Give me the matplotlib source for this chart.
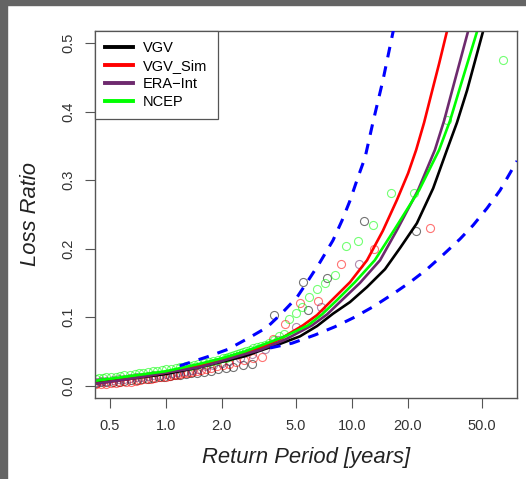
import matplotlib
matplotlib.use("Agg")
import matplotlib.pyplot as plt
from matplotlib.lines import Line2D
from matplotlib.patches import Rectangle

plt.rcParams['font.family'] = ['Liberation Sans', 'DejaVu Sans']

# fitted return-level curves: return period [years] / loss ratio
vgv_fit_T = [0.417, 0.643, 1.0, 1.53, 2.01, 2.67, 3.21, 4.12, 5.27, 6.51, 7.93, 9.79, 12.09, 15.1, 18.2,
             22.4, 27.4, 32.5, 36.8, 41.7, 50.8, 54.1]
vgv_fit_L = [0.004, 0.010, 0.017, 0.027, 0.035, 0.043, 0.051, 0.061, 0.072, 0.087, 0.105, 0.122, 0.144,
             0.170, 0.201, 0.237, 0.288, 0.344, 0.384, 0.431, 0.517, 0.545]

sim_fit_T = [0.417, 0.643, 1.0, 1.53, 2.01, 2.67, 3.21, 4.12, 5.47, 6.51, 7.84, 9.79, 12.09, 14.7, 17.5,
             20.1, 22.2, 24.5, 26.7, 29.5, 32.5, 34.6]
sim_fit_L = [0.0025, 0.010, 0.019, 0.029, 0.037, 0.048, 0.055, 0.068, 0.088, 0.103, 0.125, 0.151, 0.183,
             0.226, 0.271, 0.310, 0.344, 0.384, 0.424, 0.470, 0.517, 0.545]

era_fit_T = [0.417, 0.643, 1.0, 1.53, 2.01, 2.67, 3.21, 4.38, 6.12, 7.37, 8.87, 11.08, 14.2, 17.5, 22.7,
             28.0, 31.4, 35.0, 42.2, 44.9]
era_fit_L = [0.0025, 0.010, 0.019, 0.027, 0.036, 0.046, 0.052, 0.067, 0.088, 0.104, 0.125, 0.150, 0.183,
             0.227, 0.285, 0.344, 0.387, 0.435, 0.517, 0.545]

ncep_fit_T = [0.417, 0.643, 1.0, 1.53, 2.01, 2.67, 3.21, 4.38, 5.82, 6.92, 8.34, 10.4, 13.3, 16.9, 23.0,
              29.5, 33.8, 38.2, 47.2, 50.2]
ncep_fit_L = [0.007, 0.014, 0.021, 0.032, 0.040, 0.050, 0.058, 0.072, 0.088, 0.104, 0.125, 0.151, 0.183,
              0.227, 0.285, 0.344, 0.387, 0.435, 0.517, 0.545]

# confidence band (blue dashed)
upper_T = [1.19, 1.67, 2.16, 2.77, 3.50, 4.22, 5.08, 5.82, 6.75, 7.93, 8.87, 9.79, 10.8, 11.8, 13.0, 14.7,
           16.7, 17.3]
upper_L = [0.029, 0.042, 0.053, 0.069, 0.085, 0.106, 0.129, 0.153, 0.180, 0.212, 0.241, 0.270, 0.304, 0.333,
           0.384, 0.445, 0.517, 0.536]
lower_T = [3.64, 4.78, 6.35, 8.13, 10.2, 13.0, 16.7, 20.6, 25.4, 31.0, 38.2, 44.9, 53.4, 62.7, 77.4]
lower_L = [0.055, 0.062, 0.074, 0.086, 0.099, 0.115, 0.134, 0.151, 0.170, 0.191, 0.214, 0.234, 0.259, 0.285,
           0.328]

# empirical losses
vgv_T = [22.2, 11.6, 7.4, 5.5, 5.8, 3.83, 2.92, 2.6, 2.3, 2.1, 1.9, 1.75, 1.6, 1.48, 1.37, 1.28, 1.2,
         1.12, 1.05, 0.98, 0.92, 0.86, 0.8, 0.75, 0.7, 0.65, 0.6, 0.56, 0.52, 0.48, 0.45, 0.42]
vgv_L = [0.225, 0.241, 0.157, 0.151, 0.110, 0.103, 0.032, 0.030, 0.027, 0.026, 0.024, 0.022, 0.020, 0.019,
         0.018, 0.017, 0.016, 0.015, 0.014, 0.013, 0.012, 0.011, 0.010, 0.009, 0.008, 0.008, 0.007, 0.006,
         0.006, 0.005, 0.005, 0.004]

sim_T = [26.4, 13.2, 8.8, 6.6, 5.3, 4.4, 3.77, 3.3, 2.93, 2.64, 2.4, 2.2, 2.03, 1.89, 1.76, 1.65, 1.55,
         1.47, 1.39, 1.32, 1.26, 1.2, 1.15, 1.1, 1.06, 1.0, 0.94, 0.88, 0.83, 0.78, 0.73, 0.69, 0.65,
         0.61, 0.57, 0.54, 0.51, 0.48, 0.45, 0.42]
sim_L = [0.230, 0.199, 0.178, 0.123, 0.120, 0.090, 0.068, 0.042, 0.040, 0.037, 0.035, 0.032, 0.030, 0.028,
         0.026, 0.024, 0.023, 0.021, 0.020, 0.019, 0.018, 0.017, 0.016, 0.015, 0.014, 0.013, 0.012, 0.011,
         0.010, 0.009, 0.008, 0.007, 0.006, 0.006, 0.005, 0.004, 0.004, 0.003, 0.003, 0.002]

era_T = [10.9, 6.8, 5.0, 4.0, 3.4, 2.9, 2.5, 2.2, 2.0, 1.8, 1.65, 1.5, 1.38, 1.27, 1.17, 1.08, 1.0, 0.93,
         0.86, 0.8, 0.74, 0.69, 0.64, 0.6, 0.56, 0.52, 0.48, 0.45, 0.42]
era_L = [0.177, 0.115, 0.085, 0.066, 0.054, 0.046, 0.040, 0.036, 0.033, 0.030, 0.028, 0.025, 0.023, 0.021,
         0.020, 0.018, 0.017, 0.016, 0.015, 0.014, 0.013, 0.012, 0.011, 0.010, 0.009, 0.008, 0.007,
         0.007, 0.006]

ncep_T = [65.0, 32.5, 21.7, 16.3, 13.0, 10.8, 9.3, 8.1, 7.2, 6.5, 5.9, 5.4, 5.0, 4.6, 4.33, 4.06, 3.82,
          3.61, 3.42, 3.25, 3.1, 2.95, 2.83, 2.71, 2.6, 2.5, 2.41, 2.32, 2.24, 2.17, 2.1, 2.03, 1.9, 1.8,
          1.7, 1.6, 1.5, 1.42, 1.35, 1.28, 1.2, 1.13, 1.07, 1.0, 0.95, 0.9, 0.85, 0.8, 0.76, 0.72, 0.68,
          0.64, 0.6, 0.57, 0.54, 0.51, 0.48, 0.46, 0.44, 0.42]
ncep_L = [0.475, 0.387, 0.281, 0.281, 0.235, 0.211, 0.204, 0.161, 0.150, 0.141, 0.129, 0.115, 0.106, 0.097,
          0.075, 0.072, 0.066, 0.062, 0.060, 0.058, 0.056, 0.055, 0.052, 0.050, 0.049, 0.047, 0.046, 0.045,
          0.044, 0.042, 0.041, 0.040, 0.038, 0.036, 0.035, 0.033, 0.031, 0.030, 0.029, 0.028, 0.027, 0.026,
          0.025, 0.024, 0.023, 0.022, 0.021, 0.020, 0.019, 0.018, 0.017, 0.016, 0.015, 0.014, 0.013, 0.013,
          0.012, 0.011, 0.011, 0.010]

labels = ['VGV', 'VGV_Sim', 'ERA\u2212Int', 'NCEP']
colors = ['black', 'red', '#6E2A6E', '#00FF00']

xticks = [0.5, 1.0, 2.0, 5.0, 10.0, 20.0, 50.0]
yticks = [0.0, 0.1, 0.2, 0.3, 0.4, 0.5]


fig = plt.figure(figsize=(5.26, 4.79), dpi=100)
ax = fig.add_axes([0.1806, 0.1691, 0.8014, 0.7668])

points = [(vgv_T, vgv_L), (sim_T, sim_L), (era_T, era_L), (ncep_T, ncep_L)]
for (t, l), c in zip(points, colors):
    ax.plot(t, l, 'o', mfc='none', mec=c, ms=5.8, mew=0.8, alpha=0.55, zorder=1)

fits = [(vgv_fit_T, vgv_fit_L), (sim_fit_T, sim_fit_L), (era_fit_T, era_fit_L), (ncep_fit_T, ncep_fit_L)]
for (t, l), c in zip(fits, colors):
    ax.plot(t, l, '-', color=c, lw=1.9, zorder=2)

ax.plot(upper_T, upper_L, color='#0000FF', lw=2.2, ls=(0, (3.5, 3)), zorder=3)
ax.plot(lower_T, lower_L, color='#0000FF', lw=2.2, ls=(0, (3.5, 3)), zorder=3)

ax.set_xscale('log')
ax.set_xlim(0.417, 76.9)
ax.set_ylim(-0.018, 0.518)
ax.set_xticks(xticks)
ax.set_xticklabels(['%.1f' % v for v in xticks])
ax.xaxis.set_minor_locator(matplotlib.ticker.NullLocator())
ax.set_yticks(yticks)
ax.set_yticklabels(['%.1f' % v for v in yticks], rotation=90, va='center')
ax.tick_params(axis='both', length=7, width=0.8, color='#555555', labelsize=10.5, labelcolor='#333333')
ax.tick_params(axis='x', pad=8)
ax.tick_params(axis='y', pad=7)
for s in ax.spines.values():
    s.set_color('#555555')
    s.set_linewidth(1.0)

handles = [Line2D([], [], color=c, lw=2.8) for c in colors]
leg = ax.legend(handles, labels, loc='upper left', borderaxespad=0, fancybox=False,
                fontsize=10.5, handlelength=1.9, handletextpad=0.7, labelspacing=0.28,
                borderpad=0.7, framealpha=1)
leg.get_frame().set_edgecolor('#555555')
leg.get_frame().set_linewidth(0.9)

fig.text(31 / 526, 1 - 214 / 479, 'Loss Ratio', rotation=90, ha='center', va='center',
         style='italic', fontsize=15.8, color='#222222')
fig.text(305.7 / 526, 1 - 458 / 479, 'Return Period [years]', ha='center', va='center',
         style='italic', fontsize=15.8, color='#222222')

# dark frame on the left and top edges of the screenshot
fig.patches.append(Rectangle((0, 0), 7 / 526, 1, transform=fig.transFigure, color='#646464'))
fig.patches.append(Rectangle((0, 1 - 5 / 479), 1, 5 / 479, transform=fig.transFigure, color='#646464'))

fig.savefig('out.png', dpi=100)
